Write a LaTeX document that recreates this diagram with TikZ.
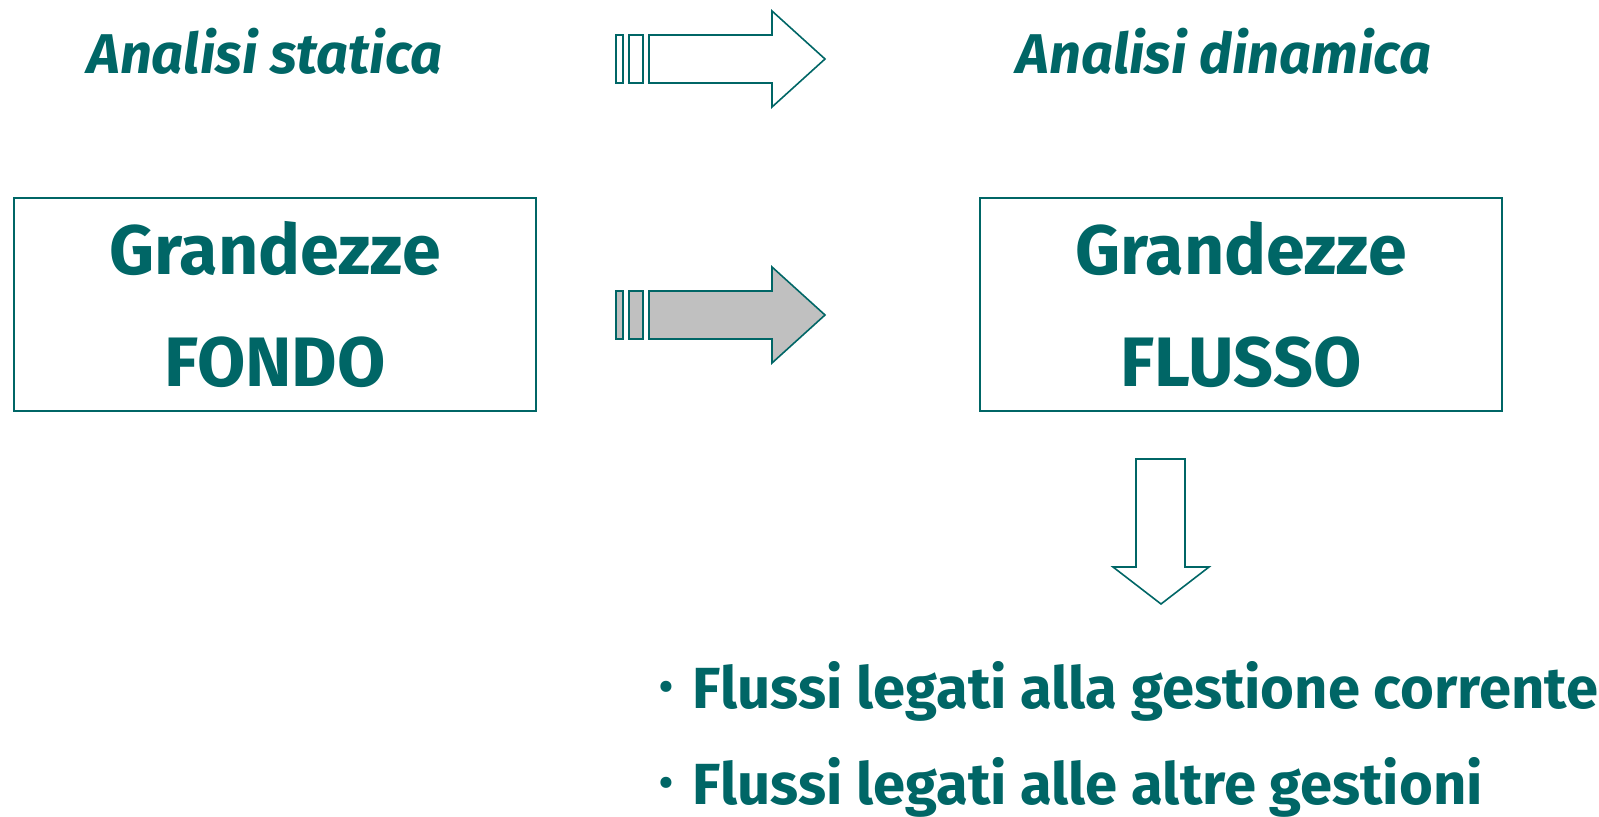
\documentclass[tikz,border=0pt]{standalone}
\usepackage{fontspec}
\setmainfont{Fira Sans}
\usepackage{xcolor}
\usepackage{tikz}

\definecolor{petrol}{RGB}{0,102,102}
\definecolor{arrowgray}{RGB}{192,192,192}

\begin{document}
\begin{tikzpicture}[x=0.5pt, y=-0.5pt]
    % Define styles
    \tikzstyle{box} = [rectangle, minimum width=261pt, minimum height=106.5pt, align=center, draw=petrol, line width=0.8pt, text=petrol, font=\fontsize{35}{56}\selectfont\bfseries]
    \tikzstyle{title} = [text=petrol, font=\fontsize{28}{30}\selectfont\bfseries\itshape]
    \tikzstyle{item} = [anchor=west, text=petrol, font=\fontsize{29}{32}\selectfont\bfseries]
    \tikzstyle{blockarrow} = [draw=petrol, line width=0.8pt, line join=miter]

    \useasboundingbox (0,0) rectangle (1599,817);

    % Nodes
    \node [title] (statica) at (265,51) {Analisi statica};
    \node [title] (dinamica) at (1224,51) {Analisi dinamica};
    \node [box] (fondo) at (275,304.5) {Grandezze\\FONDO};
    \node [box] (flusso) at (1241,304.5) {Grandezze\\FLUSSO};
    \node [item] (corrente) at (652,691) {\raisebox{0.25ex}{\fontsize{20}{20}\selectfont\textbullet}\hspace{10pt}Flussi legati alla gestione corrente};
    \node [item] (altre) at (652,787) {\raisebox{0.25ex}{\fontsize{20}{20}\selectfont\textbullet}\hspace{10pt}Flussi legati alle altre gestioni};

    % Arrows
    \draw [blockarrow, fill=white] (616,35) rectangle (623,83);
    \draw [blockarrow, fill=white] (629,35) rectangle (643,83);
    \draw [blockarrow, fill=white] (649,35) -- (772,35) -- (772,11) -- (825,59) -- (772,107) -- (772,83) -- (649,83) -- cycle;

    \draw [blockarrow, fill=arrowgray] (616,291) rectangle (623,339);
    \draw [blockarrow, fill=arrowgray] (629,291) rectangle (643,339);
    \draw [blockarrow, fill=arrowgray] (649,291) -- (772,291) -- (772,267) -- (825,315) -- (772,363) -- (772,339) -- (649,339) -- cycle;

    \draw [blockarrow, fill=white] (1136,459) -- (1185,459) -- (1185,567) -- (1209,567) -- (1161,604) -- (1113,567) -- (1136,567) -- cycle;

\end{tikzpicture}
\end{document}
